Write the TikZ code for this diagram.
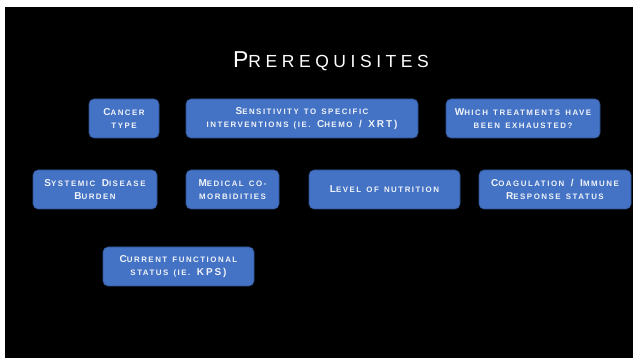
\documentclass[tikz,border=0pt]{standalone}
\usepackage{fontspec}
\setmainfont{Liberation Sans}[LetterSpace=19, WordSpace=1.4]
\newfontfamily\titlefont{Liberation Sans}[LetterSpace=26]
\usepackage{xcolor}
\usetikzlibrary{positioning}
\definecolor{PreBlue}{HTML}{4472C4}
\definecolor{PreEdge}{HTML}{2F528F}
% fake small caps: smaller upper-case letters
\newcommand{\sm}[1]{{\fontsize{7.9}{13}\selectfont\MakeUppercase{#1}}}
\newcommand{\tsm}[1]{{\fontsize{17.5}{20}\selectfont\MakeUppercase{#1}}}

\begin{document}
\begin{tikzpicture}[x=1pt, y=-1pt,
  prereq/.style={draw=PreEdge, fill=PreBlue, rounded corners=5pt, line width=0.6pt,
                 minimum height=39pt, inner sep=1pt, align=center,
                 font=\fontsize{10}{13}\selectfont\bfseries, text=white!92!PreBlue},
  ttl/.style={font=\titlefont\fontsize{23}{24}\selectfont, text=white, inner sep=0pt},
]
%% ---- slide background ----
\fill[white] (0,0) rectangle (633,358);
\fill[black] (5,7) rectangle (633,358);
\useasboundingbox (0,0) rectangle (633,358);

%% ---- title ----
\node[ttl] (title) at (331,61) {P\tsm{rerequisites}};

%% ---- first row ----
\node[prereq, minimum width=70pt]  (cancer) at (124,118.5) {C\sm{ancer}\\\sm{type}};
\node[prereq, minimum width=232pt] (sens)   at (302,118.5)
  {S\sm{ensitivity to specific}\\\sm{interventions (ie.} C\sm{hemo} / XRT)};
\node[prereq, minimum width=154pt] (treat)  at (523,118.5)
  {W\sm{hich treatments have}\\\sm{been exhausted?}};

%% ---- second row ----
\node[prereq, minimum width=124pt] (burden) at (95,189.5)
  {S\sm{ystemic} D\sm{isease}\\B\sm{urden}};
\node[prereq, minimum width=93pt]  (comorb) at (232.5,189.5)
  {M\sm{edical co-}\\\sm{morbidities}};
\node[prereq, minimum width=151pt] (nutri)  at (384.5,189.5) {L\sm{evel of nutrition}};
\node[prereq, minimum width=152pt] (coag)   at (555,189.5)
  {C\sm{oagulation} / I\sm{mmune}\\R\sm{esponse status}};

%% ---- third row ----
\node[prereq, minimum width=151pt] (kps) at (178.5,266.5)
  {C\sm{urrent functional}\\\sm{status (ie.} KPS)};
\end{tikzpicture}
\end{document}
